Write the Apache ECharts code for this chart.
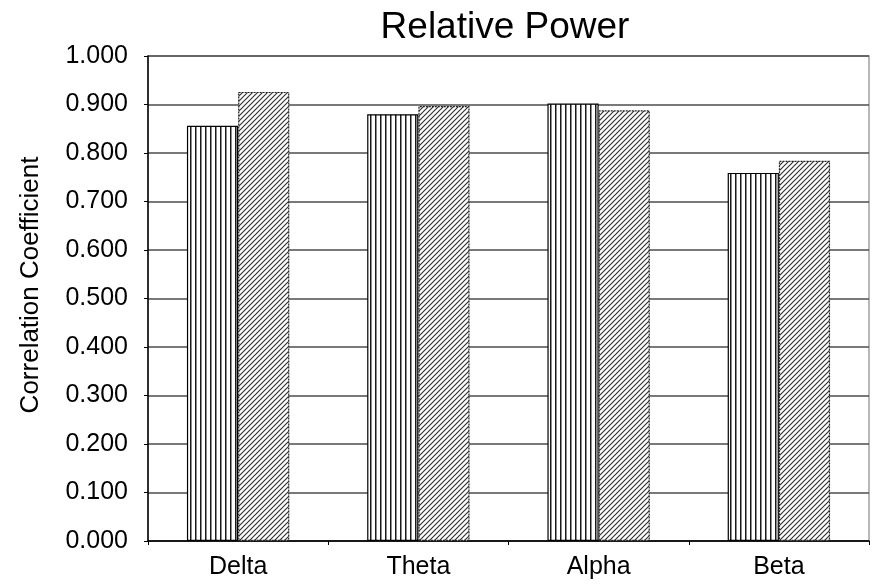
<!DOCTYPE html>
<html><head><meta charset="utf-8">
<script src="https://cdn.jsdelivr.net/npm/echarts@6/dist/echarts.min.js"></script>
<style>html,body{margin:0;padding:0;background:#fff}#c{width:878px;height:584px}</style>
</head><body><div id="c"></div>
<script>
const categories = ['Delta', 'Theta', 'Alpha', 'Beta'];
const seriesA = [0.856, 0.880, 0.902, 0.759];
const seriesB = [0.926, 0.897, 0.888, 0.784];
const yTicks = [0, 0.1, 0.2, 0.3, 0.4, 0.5, 0.6, 0.7, 0.8, 0.9, 1.0];

function vertPattern() {
  const c = document.createElement('canvas');
  c.width = 5; c.height = 5;
  const g = c.getContext('2d');
  g.fillStyle = '#fff'; g.fillRect(0, 0, 5, 5);
  g.fillStyle = '#1a1a1a'; g.fillRect(0, 0, 1.5, 5);
  return c;
}
function diagPattern() {
  const s = 5;
  const c = document.createElement('canvas');
  c.width = s; c.height = s;
  const g = c.getContext('2d');
  g.fillStyle = '#fff'; g.fillRect(0, 0, s, s);
  g.strokeStyle = '#333'; g.lineWidth = 1.2;
  g.beginPath();
  g.moveTo(0, s); g.lineTo(s, 0);
  g.moveTo(-1, 1); g.lineTo(1, -1);
  g.moveTo(s - 1, s + 1); g.lineTo(s + 1, s - 1);
  g.stroke();
  return c;
}

const chart = echarts.init(document.getElementById('c'));
chart.setOption({
  animation: false,
  title: {
    text: 'Relative Power', left: 500, top: 4, textAlign: 'center',
    textStyle: { fontFamily: 'Liberation Sans', fontSize: 37, fontWeight: 'normal', color: '#000' }
  },
  graphic: [{
    type: 'text', x: 31, y: 285, rotation: Math.PI / 2,
    style: { text: 'Correlation Coefficient', fontFamily: 'Liberation Sans', fontSize: 26,
      fill: '#000', align: 'center', verticalAlign: 'middle' }
  }],
  grid: { left: 148, right: 9, top: 56, bottom: 43, show: true, borderColor: '#a0a0a0', borderWidth: 1.5, containLabel: false },
  xAxis: {
    type: 'category', data: categories,
    axisLine: { lineStyle: { color: '#000', width: 1.5 } },
    axisTick: { show: true, length: 4, lineStyle: { color: '#000' } },
    axisLabel: { fontFamily: 'Liberation Sans', fontSize: 25, color: '#000', margin: 14 }
  },
  yAxis: {
    type: 'value', min: 0, max: 1, interval: 0.1,
    axisLine: { show: true, lineStyle: { color: '#000', width: 1.5 } },
    axisTick: { show: true, length: 4, lineStyle: { color: '#000' } },
    axisLabel: { fontFamily: 'Liberation Sans', fontSize: 25, color: '#000', margin: 20,
      formatter: v => v.toFixed(3) },
    splitLine: { lineStyle: { color: '#4d4d4d', width: 1.6 } }
  },
  series: [
    { type: 'bar', data: seriesA, barWidth: '28.4%', barGap: '0%',
      itemStyle: { color: { image: vertPattern(), repeat: 'repeat' }, borderColor: '#000', borderWidth: 1.2 } },
    { type: 'bar', data: seriesB, barWidth: '28.4%', barGap: '0%',
      itemStyle: { color: { image: diagPattern(), repeat: 'repeat' }, borderColor: '#222', borderWidth: 1.2, borderType: [2, 1] } }
  ]
});
</script></body></html>
